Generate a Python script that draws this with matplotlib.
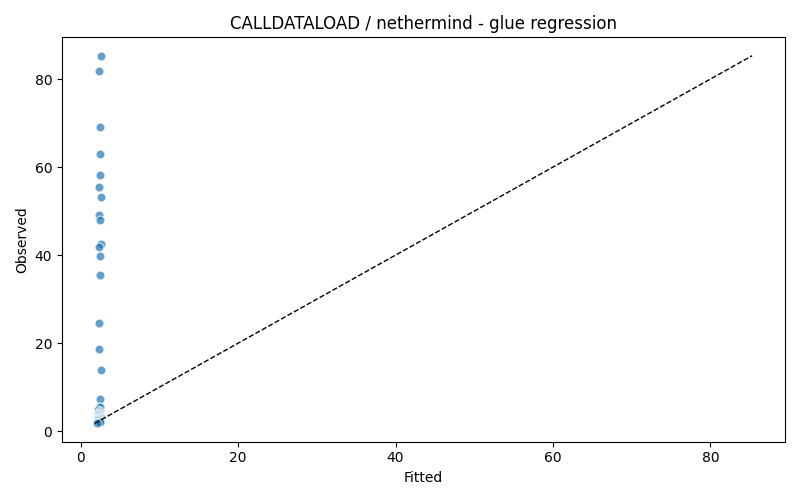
import numpy as np
import matplotlib
matplotlib.use("Agg")
import matplotlib.pyplot as plt

fitted = [2.55, 2.30, 2.42, 2.42, 2.42, 2.30, 2.58, 2.30, 2.45, 2.55, 2.40, 2.42,
          2.42, 2.30, 2.30, 2.55, 2.42,
          2.30, 2.45, 2.25, 2.50, 2.35, 2.40, 2.20, 2.52, 2.38, 2.28, 2.48, 2.32,
          2.42, 2.18, 2.55, 2.36, 2.26, 2.46, 2.40, 2.34, 2.50, 2.30, 2.44, 2.10]
observed = [85.3, 81.8, 69.0, 62.9, 58.2, 55.5, 53.1, 49.1, 47.9, 42.5, 41.9, 39.9,
            35.4, 24.7, 18.6, 13.9, 7.3,
            5.5, 5.4, 4.8, 4.6, 4.4, 4.2, 4.0, 3.9, 3.7, 3.6, 3.5, 3.3,
            3.2, 3.1, 3.0, 2.9, 2.8, 2.7, 2.6, 2.5, 2.4, 2.2, 2.0, 1.8]

lo = min(min(fitted), min(observed))
hi = max(max(fitted), max(observed))

plt.figure(figsize=(8, 5), dpi=100)
plt.scatter(fitted, observed, s=40, c="tab:blue", alpha=0.7, edgecolors="white", linewidths=0.8)
plt.plot([lo, hi], [lo, hi], c="black", linestyle="--", linewidth=1)
plt.title("CALLDATALOAD / nethermind - glue regression")
plt.xlabel("Fitted")
plt.ylabel("Observed")
plt.tight_layout()
plt.savefig("out.png")
